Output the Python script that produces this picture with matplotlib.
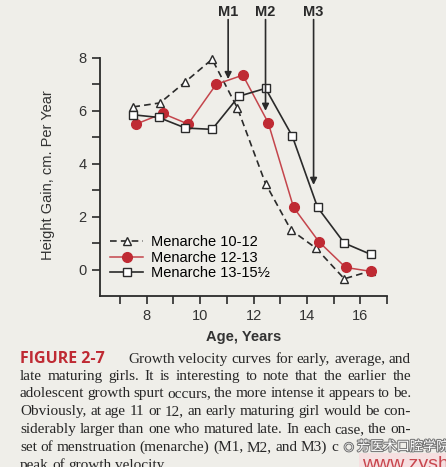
import matplotlib
matplotlib.use("Agg")
import matplotlib.pyplot as plt
import matplotlib.patheffects as pe

# data
early_age = [7.5, 8.5, 9.45, 10.45, 11.4, 12.45, 13.4, 14.35, 15.4, 16.4]
early_gain = [6.15, 6.3, 7.1, 7.95, 6.1, 3.25, 1.5, 0.8, -0.35, -0.05]
avg_age = [7.6, 8.6, 9.55, 10.6, 11.6, 12.55, 13.5, 14.45, 15.45, 16.4]
avg_gain = [5.5, 5.9, 5.5, 7.0, 7.35, 5.55, 2.35, 1.05, 0.08, -0.07]
late_age = [7.5, 8.45, 9.45, 10.45, 11.45, 12.45, 13.45, 14.4, 15.4, 16.4]
late_gain = [5.85, 5.75, 5.35, 5.3, 6.55, 6.85, 5.05, 2.35, 1.0, 0.57]

labels = ["Menarche 10-12", "Menarche 12-13", "Menarche 13-15\u00bd"]
menarche_names = ["M1", "M2", "M3"]
menarche_age = [11.05, 12.45, 14.25]
menarche_gain = [7.2, 6.0, 3.2]

caption_lines = [
    "Growth velocity curves for early, average, and",
    "late maturing girls. It is interesting to note that the earlier the",
    "adolescent growth spurt occurs, the more intense it appears to be.",
    "Obviously, at age 11 or 12, an early maturing girl would be con-",
    "siderably larger than one who matured late. In each case, the on-",
    "set of menstruation (menarche) (M1, M2, and M3) c",
    "peak of growth velocity.",
]

bg = "#efeee9"
red = "#bf2a33"
ink = "#2a2a2a"

plt.rcParams["font.family"] = "Liberation Sans"

W, H = 446, 467
fig = plt.figure(figsize=(W / 100, H / 100), dpi=100, facecolor=bg)
ax = fig.add_axes([100 / W, 1 - 296 / H, 287 / W, 296 / H])
ax.set_facecolor(bg)

ax.plot(early_age, early_gain, color=ink, lw=1.2, ls=(0, (4, 2.5)), marker="^",
        ms=6, mfc="white", mec=ink, mew=1, label=labels[0])
ax.plot(avg_age, avg_gain, color="#c4454c", lw=1.1, marker="o",
        ms=7, mfc=red, mec=red, label=labels[1])
ax.plot(late_age, late_gain, color=ink, lw=1.2, marker="s",
        ms=6, mfc="white", mec=ink, mew=1, label=labels[2])

for name, x, y in zip(menarche_names, menarche_age, menarche_gain):
    ax.annotate("", xy=(x, y), xytext=(x, 9.45),
                arrowprops=dict(arrowstyle="-|>", color=ink, lw=1.2,
                                mutation_scale=10, shrinkA=0, shrinkB=0),
                annotation_clip=False)
    ax.text(x, 9.75, name, ha="center", va="center", fontsize=10.5,
            fontweight="bold", color=ink, clip_on=False)

ax.set_xlim(6.25, 17)
ax.set_ylim(-1, 10.19)
ax.spines["top"].set_visible(False)
ax.spines["right"].set_visible(False)
ax.spines["left"].set_bounds(-1, 8)
for s in ("left", "bottom"):
    ax.spines[s].set_color(ink)
    ax.spines[s].set_linewidth(1.3)

ax.set_xticks(range(7, 18))
ax.set_xticklabels(["", "8", "", "10", "", "12", "", "14", "", "16", ""])
ax.set_yticks(range(0, 9))
ax.set_yticklabels(["0", "", "2", "", "4", "", "6", "", "8"])
ax.tick_params(colors=ink, labelcolor="#333333", labelsize=10.5, length=6, width=1.2)

ax.set_xlabel("Age, Years", fontsize=10.5, fontweight="bold", color="#333333", labelpad=5)
ax.set_ylabel("Height Gain, cm. Per Year", fontsize=10.5, color="#333333")
ax.yaxis.set_label_coords(-0.157, 0.41)

ax.legend(loc="lower left", bbox_to_anchor=(0.014, 0.035), frameon=False,
          fontsize=10.5, handlelength=2.3, handletextpad=0.5,
          labelspacing=0.08, borderaxespad=0)

# caption, justified by hand
renderer = fig.canvas.get_renderer()
fig.text(20 / W, 1 - 363 / H, "FIGURE 2-7", color=red, fontsize=11.5,
         fontweight="bold", family="Open Sans", va="baseline")


def justify(line, x0, x1, ybase, fill=True):
    words = line.split(" ")
    texts = [fig.text(0, 1 - ybase / H, w, fontsize=11, family="Liberation Serif",
                      color="#262626", va="baseline") for w in words]
    widths = [t.get_window_extent(renderer).width for t in texts]
    gap = (x1 - x0 - sum(widths)) / (len(words) - 1) if fill else 3.5
    x = x0
    for t, w in zip(texts, widths):
        t.set_x(x / W)
        x += w + gap


line_y = [363, 380, 397, 415, 433, 451, 469]
justify(caption_lines[0], 128, 411, line_y[0])
for line, y in zip(caption_lines[1:5], line_y[1:5]):
    justify(line, 20, 411, y)
justify(caption_lines[5], 20, 0, line_y[5], fill=False)
justify(caption_lines[6], 20, 0, line_y[6], fill=False)

# watermark on the scan
fig.text(357 / W, 1 - 447 / H, "芳医术口腔学院", family=["Noto Sans CJK SC", "DejaVu Sans"],
         fontsize=9.5, color="white", va="center",
         path_effects=[pe.withStroke(linewidth=1.5, foreground="#777777")])
fig.text(344 / W, 1 - 447 / H, "\u25cb", family="DejaVu Sans", fontsize=8, color="white",
         va="center", path_effects=[pe.withStroke(linewidth=1.5, foreground="#777777")])
fig.text(362 / W, 1 - 469 / H, "www.zyshe", fontsize=14, color="#c8464e",
         va="baseline", bbox=dict(facecolor="#f6dfe0", edgecolor="none", pad=2))

fig.savefig("out.png", dpi=100, facecolor=bg)
